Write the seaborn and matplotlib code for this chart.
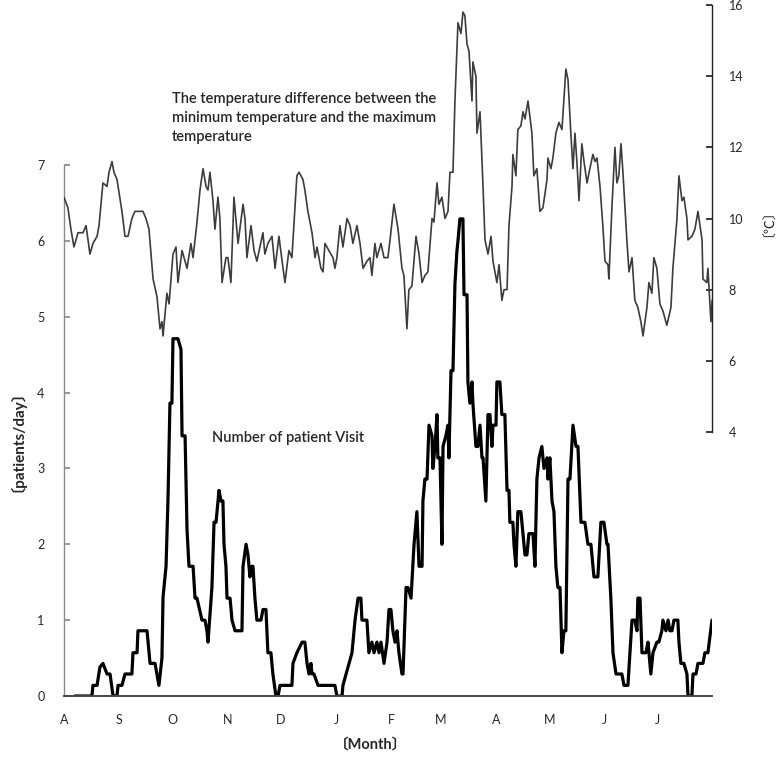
import matplotlib
matplotlib.use("Agg")
import matplotlib.pyplot as plt
import seaborn as sns
import pandas as pd

# x axis: days since 1 August, month letters at the first of each month
month_days = [0, 31, 61, 92, 122, 153, 184, 212, 243, 273, 304, 334]
month_labels = ["A", "S", "O", "N", "D", "J", "F", "M", "A", "M", "J", "J"]
visit_ticks = [0, 1, 2, 3, 4, 5, 6, 7]
temp_ticks = [4, 6, 8, 10, 12, 14, 16]

# daily max-min temperature difference (right axis, deg C)
temp_days = [
    0, 2.2, 3.9, 5.6, 7.9, 10.7, 12.4, 14.6, 16.3, 18.6,
    19.7, 21.9, 24.2, 25.3, 27.0, 28.1, 29.8, 32.6, 34.3, 36.0,
    38.2, 39.9, 42.2, 44.4, 46.1, 47.8, 50.1, 52.3, 54.0, 55.1,
    55.7, 57.9, 59.1, 61.3, 63.0, 64.1, 66.4, 69.2, 71.4, 72.6,
    74.8, 76.5, 78.2, 79.9, 81.0, 82.1, 83.8, 84.9, 86.6, 87.7,
    88.9, 91.1, 92.2, 93.9, 95.6, 97.9, 100.7, 101.8, 102.9, 105.2,
    106.9, 108.5, 110.2, 111.9, 113.0, 114.7, 117.0, 118.7, 120.9, 123.2,
    124.3, 126.5, 128.2, 129.9, 131.0, 132.2, 134.4, 135.5, 137.2, 139.5,
    141.2, 142.3, 144.5, 145.7, 146.8, 149.0, 151.3, 152.4, 153.5, 155.2,
    156.9, 159.2, 160.9, 162.5, 164.8, 166.5, 168.2, 170.4, 172.1, 173.2,
    174.9, 176.0, 178.3, 180.0, 182.2, 183.4, 185.6, 187.9, 190.1, 191.2,
    192.9, 194.0, 195.7, 198.0, 199.7, 201.4, 203.0, 204.7, 207.0, 208.1,
    209.8, 210.9, 212.6, 214.3, 216.0, 217.1, 218.8, 219.9, 221.6, 223.3,
    224.4, 225.5, 226.7, 227.8, 229.5, 230.0, 231.7, 232.3, 234.0, 235.7,
    236.8, 238.5, 240.2, 241.3, 243.5, 244.7, 246.3, 247.5, 249.2, 250.3,
    252.0, 252.5, 254.2, 255.3, 257.0, 258.2, 259.3, 261.0, 263.2, 264.3,
    266.0, 267.7, 269.4, 271.7, 272.2, 273.9, 275.0, 276.7, 278.4, 280.1,
    282.3, 283.5, 285.2, 286.3, 287.4, 288.5, 289.7, 291.3, 292.5, 294.2,
    295.8, 297.5, 298.7, 299.8, 301.5, 303.1, 304.3, 306.0, 306.5, 308.2,
    309.9, 311.0, 312.1, 313.3, 314.4, 316.6, 317.8, 319.5, 321.1, 322.8,
    324.5, 325.7, 327.9, 329.0, 330.7, 331.8, 333.5, 335.2, 336.9, 339.1,
    341.4, 342.5, 344.8, 345.9, 347.6, 348.7, 350.4, 351.0, 353.2, 354.9,
    356.6, 358.9, 359.4, 361.6, 362.2, 363.9, 364.6,
]
temp_range = [
    10.6, 10.3, 9.7, 9.2, 9.6, 9.6, 9.8, 9.0, 9.3, 9.5,
    9.8, 11.0, 10.9, 11.3, 11.6, 11.3, 11.1, 10.2, 9.5, 9.5,
    10.0, 10.2, 10.2, 10.2, 10.0, 9.7, 8.3, 7.8, 6.9, 7.1,
    6.7, 7.9, 7.6, 9.0, 9.2, 8.2, 9.1, 8.6, 9.3, 8.9,
    9.9, 10.8, 11.4, 10.9, 10.8, 11.3, 10.5, 9.7, 10.6, 10.0,
    8.2, 8.9, 8.9, 8.2, 10.6, 9.3, 10.4, 10.0, 8.9, 9.8,
    9.1, 8.8, 9.2, 9.6, 9.0, 9.3, 9.5, 8.6, 9.5, 8.6,
    8.2, 9.1, 8.9, 10.3, 11.2, 11.3, 11.1, 10.8, 10.2, 9.6,
    8.9, 9.2, 8.6, 8.5, 9.3, 9.1, 8.9, 8.6, 8.9, 9.8,
    9.2, 10.0, 9.8, 9.3, 9.8, 9.3, 8.6, 8.8, 8.9, 8.4,
    9.3, 8.9, 9.3, 8.9, 8.9, 9.4, 10.4, 9.7, 8.6, 8.4,
    6.9, 8.0, 8.1, 9.5, 9.0, 8.2, 8.4, 8.5, 10.0, 9.9,
    11.0, 10.4, 10.6, 10.0, 10.2, 11.3, 11.3, 13.3, 15.5, 15.2,
    15.8, 15.7, 14.9, 14.7, 13.3, 14.4, 14.0, 12.4, 13.0, 10.9,
    9.4, 9.0, 9.5, 8.8, 8.2, 8.7, 7.7, 8.0, 8.0, 9.8,
    10.9, 11.8, 11.2, 12.5, 12.6, 13.0, 12.8, 13.3, 12.4, 11.2,
    11.4, 10.2, 10.3, 11.1, 11.7, 11.4, 11.7, 12.4, 12.7, 12.5,
    14.2, 13.9, 12.3, 11.4, 12.4, 11.6, 10.5, 12.1, 11.6, 11.0,
    11.4, 11.8, 11.6, 11.7, 10.9, 9.8, 8.8, 8.7, 8.3, 10.3,
    12.0, 11.0, 11.2, 12.1, 11.3, 9.4, 8.5, 8.9, 7.7, 7.5,
    7.1, 6.7, 7.5, 8.2, 7.9, 8.9, 8.6, 7.6, 7.4, 7.0,
    7.5, 8.6, 10.0, 11.2, 10.5, 10.6, 10.0, 9.4, 9.5, 9.7,
    10.2, 9.4, 8.3, 8.2, 8.6, 7.1, 7.7,
]

# number of patient visits per day (left axis)
visit_days = [
    6.2, 15.7, 16.3, 18.6, 20.2, 21.9, 24.2, 25.9, 27.6, 29.8,
    30.4, 32.6, 34.3, 38.2, 38.8, 41.1, 41.6, 46.7, 48.4, 51.2,
    53.4, 55.1, 55.7, 57.4, 58.5, 59.6, 60.7, 61.3, 64.1, 65.8,
    66.4, 68.1, 69.2, 70.3, 72.6, 73.7, 74.8, 77.6, 79.3, 80.4,
    81.0, 83.2, 84.4, 85.5, 86.6, 87.2, 88.3, 89.4, 90.0, 91.1,
    91.7, 93.4, 94.5, 96.2, 100.1, 100.7, 102.4, 103.5, 104.6, 105.7,
    106.3, 107.4, 108.5, 110.8, 111.9, 113.6, 114.7, 116.4, 117.5, 119.2,
    120.4, 121.5, 128.2, 128.8, 131.0, 133.9, 135.5, 136.7, 137.8, 138.9,
    139.5, 140.6, 142.9, 152.4, 153.5, 156.4, 156.9, 160.3, 162.0, 163.7,
    165.4, 167.0, 167.6, 170.4, 171.5, 173.2, 174.4, 176.0, 177.2, 178.3,
    180.0, 181.7, 182.8, 183.9, 185.0, 186.2, 187.3, 188.4, 190.1, 190.7,
    192.4, 193.5, 195.2, 196.9, 198.5, 199.7, 201.4, 201.9, 203.0, 204.2,
    205.3, 207.0, 207.5, 208.7, 209.8, 210.3, 211.5, 212.6, 213.2, 214.8,
    216.0, 216.5, 217.7, 218.8, 219.9, 221.0, 221.6, 222.7, 224.4, 225.0,
    226.7, 227.2, 228.3, 229.5, 230.0, 231.7, 232.8, 234.0, 235.1, 235.7,
    237.3, 238.5, 239.6, 240.7, 241.3, 243.0, 243.5, 245.2, 246.3, 248.0,
    249.2, 250.3, 250.8, 252.5, 253.1, 254.2, 255.3, 257.0, 258.2, 259.3,
    260.4, 261.5, 263.8, 264.9, 266.0, 267.2, 268.8, 270.0, 271.7, 272.2,
    273.3, 274.5, 275.6, 276.7, 277.8, 279.0, 280.1, 281.2, 282.3, 283.5,
    284.6, 286.3, 288.0, 289.1, 290.8, 293.0, 294.7, 296.4, 298.1, 300.3,
    302.0, 303.7, 305.4, 306.0, 307.6, 308.8, 310.5, 311.6, 313.8, 315.0,
    317.2, 319.5, 321.1, 322.3, 322.8, 324.0, 325.1, 327.3, 328.5, 330.1,
    331.3, 333.5, 334.6, 336.3, 336.9, 338.6, 339.8, 340.8, 342.0, 343.1,
    345.3, 345.9, 347.0, 348.7, 350.4, 351.0, 353.2, 353.8, 355.5, 356.6,
    359.4, 360.5, 362.2, 364.5,
]
visits = [
    0, 0, 0.14, 0.14, 0.38, 0.43, 0.29, 0.29, 0, 0,
    0.14, 0.14, 0.29, 0.29, 0.57, 0.57, 0.86, 0.86, 0.43, 0.43,
    0.14, 0.5, 1.3, 1.71, 2.6, 3.86, 3.86, 4.71, 4.71, 4.57,
    3.43, 3.43, 2.19, 1.71, 1.71, 1.29, 1.29, 1.0, 1.0, 0.86,
    0.71, 1.43, 2.29, 2.29, 2.57, 2.71, 2.57, 2.57, 2.0, 1.71,
    1.29, 1.29, 1.0, 0.86, 0.86, 1.71, 2.0, 1.86, 1.57, 1.71,
    1.71, 1.29, 1.0, 1.0, 1.14, 1.14, 0.57, 0.57, 0.29, 0,
    0, 0.14, 0.14, 0.43, 0.57, 0.71, 0.71, 0.43, 0.29, 0.43,
    0.29, 0.29, 0.14, 0.14, 0, 0, 0.14, 0.43, 0.57, 1.0,
    1.29, 1.29, 1.0, 1.0, 0.57, 0.71, 0.57, 0.71, 0.57, 0.71,
    0.43, 0.71, 1.14, 1.14, 0.86, 0.71, 0.86, 0.57, 0.29, 0.29,
    1.43, 1.43, 1.29, 2.0, 2.43, 1.71, 1.71, 2.57, 2.86, 2.86,
    3.57, 3.43, 3.0, 3.29, 3.71, 3.14, 3.14, 2.0, 3.29, 3.43,
    3.57, 3.14, 4.29, 4.29, 5.43, 5.86, 6.0, 6.29, 6.29, 5.29,
    5.29, 4.14, 3.86, 4.14, 3.86, 3.29, 3.29, 3.57, 3.14, 3.14,
    2.57, 3.71, 3.71, 3.29, 3.57, 3.57, 4.14, 4.14, 3.71, 3.71,
    2.71, 2.71, 2.29, 2.29, 2.0, 1.71, 2.43, 2.43, 2.14, 1.86,
    1.86, 2.14, 2.14, 1.71, 2.86, 3.14, 3.29, 3.0, 3.14, 2.86,
    3.14, 2.57, 2.43, 1.71, 1.43, 1.43, 0.57, 0.86, 0.86, 2.86,
    2.86, 3.57, 3.29, 3.29, 2.29, 2.29, 2.0, 2.0, 1.57, 1.57,
    2.29, 2.29, 2.0, 2.0, 1.29, 0.57, 0.29, 0.29, 0.29, 0.14,
    0.14, 1.0, 1.0, 0.86, 1.29, 1.29, 0.57, 0.57, 0.71, 0.29,
    0.57, 0.71, 0.71, 0.86, 1.0, 0.86, 1.0, 0.86, 0.86, 1.0,
    1.0, 0.71, 0.43, 0.43, 0.29, 0, 0, 0.29, 0.29, 0.43,
    0.43, 0.57, 0.57, 1.0,
]

temp_df = pd.DataFrame({"day": temp_days, "diff": temp_range})
visit_df = pd.DataFrame({"day": visit_days, "visits": visits})

sns.set_theme(style="white")
plt.rcParams["font.family"] = ["Lato", "Noto Sans CJK JP", "DejaVu Sans"]

W, H = 778, 765
fig = plt.figure(figsize=(W / 100, H / 100), dpi=100)
x_end = 364.5

# left axis: patients/day, 0..7
ax = fig.add_axes([64 / W, (H - 696) / H, 648 / W, (696 - 165) / H])
sns.lineplot(data=visit_df, x="day", y="visits", ax=ax, color="black",
             linewidth=2.3, sort=False, estimator=None)
ax.set_xlim(0, x_end)
ax.set_ylim(0, 7)
ax.set_yticks(visit_ticks)
ax.set_xticks(month_days)
ax.set_xticklabels(month_labels)
ax.set_xlabel("")
ax.set_ylabel("")
for s in ["top", "right"]:
    ax.spines[s].set_visible(False)
ax.spines["left"].set_color("#8a8a8a")
ax.spines["left"].set_linewidth(1.0)
ax.spines["bottom"].set_color("#444444")
ax.spines["bottom"].set_linewidth(1.4)
ax.tick_params(axis="y", direction="in", length=4, color="#8a8a8a",
               labelsize=9, pad=14, left=True)
ax.tick_params(axis="x", length=0, labelsize=9, pad=13)

# right axis: temperature difference, 4..16
ax_t = fig.add_axes([64 / W, (H - 432) / H, 648 / W, (432 - 5) / H])
ax_t.patch.set_visible(False)
sns.lineplot(data=temp_df, x="day", y="diff", ax=ax_t, color="#3c3c3c",
             linewidth=1.2, sort=False, estimator=None)
ax_t.set_xlim(0, x_end)
ax_t.set_ylim(4, 16)
ax_t.set_yticks(temp_ticks)
ax_t.set_xticks([])
ax_t.set_xlabel("")
ax_t.set_ylabel("")
for s in ["top", "left", "bottom"]:
    ax_t.spines[s].set_visible(False)
ax_t.spines["right"].set_color("#222222")
ax_t.spines["right"].set_linewidth(1.0)
ax_t.yaxis.tick_right()
ax_t.tick_params(axis="y", direction="in", length=4, color="#222222",
                 labelsize=9, pad=12, right=True)

# axis titles
fig.text(9 / W, 1 - 433 / H, "〔patients/day〕", rotation=90, ha="center",
         va="center", fontsize=11, fontweight="bold")
fig.text(370 / W, 1 - 745 / H, "〔Month〕", ha="center", va="center",
         fontsize=10.5, fontweight="bold")
fig.text(761 / W, 1 - 216 / H, "〔℃〕", rotation=90, ha="center",
         va="center", fontsize=10)

# series annotations
fig.text(172 / W, 1 - 92 / H,
         "The temperature difference between the\n"
         "minimum temperature and the maximum\n"
         "temperature",
         ha="left", va="top", fontsize=10.5, fontweight="semibold",
         linespacing=1.45)
fig.text(212 / W, 1 - 438 / H, "Number of patient Visit",
         ha="left", va="center", fontsize=10.5, fontweight="semibold")

fig.savefig("out.png", dpi=100)
